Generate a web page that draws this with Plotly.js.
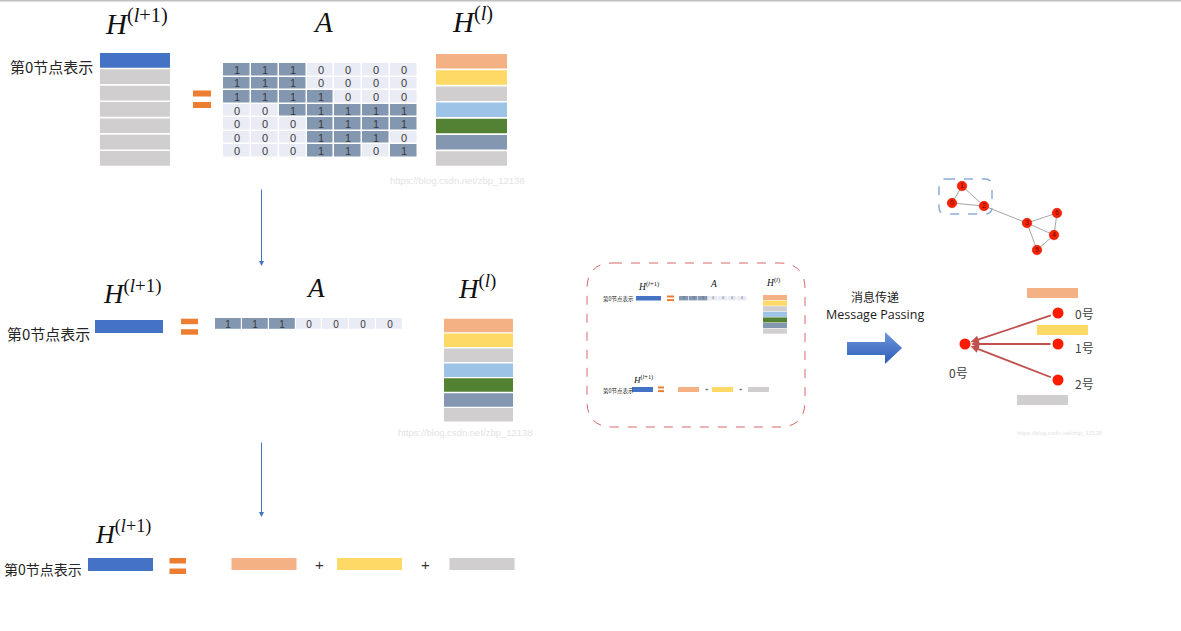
<!DOCTYPE html>
<html><head><meta charset="utf-8">
<script src="https://cdn.plot.ly/plotly-3.0.1.min.js"></script>
<style>html,body{margin:0;padding:0;background:#fff;overflow:hidden}#chart{width:1181px;height:631px}</style>
</head><body><div id="chart"></div>
<script>
// ---------------- data ----------------
const nodeIds = [0, 1, 2, 3, 4, 5, 6];
const edges = [[0,1],[0,2],[1,2],[2,3],[3,4],[3,5],[3,6],[4,5],[4,6]];
const adjacency = [
  [1,1,1,0,0,0,0],
  [1,1,1,0,0,0,0],
  [1,1,1,1,0,0,0],
  [0,0,1,1,1,1,1],
  [0,0,0,1,1,1,1],
  [0,0,0,1,1,1,0],
  [0,0,0,1,1,0,1]
];
const featureColors = ['#F4B183','#FFD966','#D0CECE','#9DC3E6','#548235','#8497B0','#D0CECE'];
const outputColors  = ['#4472C4','#D0CECE','#D0CECE','#D0CECE','#D0CECE','#D0CECE','#D0CECE'];
const targetNode = 0;
const rowLabel = '第0节点表示';
const outLabel = '<i>H</i><sup>(<i>l</i>+1)</sup>';
const adjLabel = '<i>A</i>';
const inLabel  = '<i>H</i><sup>(<i>l</i>)</sup>';
const mpTitleZh = '消息传递';
const mpTitleEn = 'Message Passing';
const nodeSuffix = '号';
const watermark = 'https://blog.csdn.net/zbp_12138';

// derived
const targetRow = adjacency[targetNode];
const neighbors = nodeIds.filter(j => targetRow[j] === 1);
const neighborColors = neighbors.map(j => featureColors[j]);

// ---------------- layout helpers (positions only) ----------------
const shapes = [], annotations = [], traces = [];
const BLUE = '#4472C4', ORANGE = '#ED7D31';

function rect(x0, y0, x1, y1, color, extra) {
  shapes.push(Object.assign({type:'rect', xref:'x', yref:'y', x0, y0, x1, y1,
    fillcolor: color, line:{width:0}, layer:'above'}, extra || {}));
}
function text(x, y, t, size, opts) {
  annotations.push(Object.assign({x, y, xref:'x', yref:'y', text:t, showarrow:false,
    xanchor:'center', yanchor:'middle',
    font:{family:'Noto Sans CJK SC, Noto Sans, sans-serif', size, color:'#262626'}}, opts || {}));
}
function math(x, y, t, size) {
  text(x, y, t, size, {font:{family:'Liberation Serif, DejaVu Serif, serif', size, color:'#111'}});
}
function column(colors, x0, x1, top, step, h) {
  colors.forEach((c, i) => rect(x0, top + i*step, x1, top + i*step + h, c));
}
function equals(x0, x1, yTop, barH, gap) {
  rect(x0, yTop, x1, yTop + barH, ORANGE);
  rect(x0, yTop + barH + gap, x1, yTop + 2*barH + gap, ORANGE);
}
function matrix(rows, x0, y0, cw, ch, gap, fsize) {
  const xs = [], ys = [];
  for (let j = 0; j <= rows[0].length; j++) xs.push(x0 + cw*j);
  for (let i = 0; i <= rows.length; i++) ys.push(y0 + ch*i);
  traces.push({type:'heatmap', x: xs, y: ys, z: rows, zmin:0, zmax:1,
    colorscale:[[0,'#E9EBF5'],[1,'#8497B0']], showscale:false, xgap:gap, ygap:gap,
    hoverinfo:'skip', texttemplate: '%{z}',
    textfont:{size: fsize, color:'#3a3a3a', family:'Liberation Sans, Arial'}});
}
function roundBox(x0, y0, x1, y1, r, color, w) {
  const p = `M${x0+r},${y0} L${x1-r},${y0} Q${x1},${y0} ${x1},${y0+r} L${x1},${y1-r} Q${x1},${y1} ${x1-r},${y1} ` +
            `L${x0+r},${y1} Q${x0},${y1} ${x0},${y1-r} L${x0},${y0+r} Q${x0},${y0} ${x0+r},${y0} Z`;
  shapes.push({type:'path', xref:'x', yref:'y', path:p, line:{color, width:w, dash:'dash'}, fillcolor:'rgba(0,0,0,0)'});
}
function arrow(x, y, ax, ay, color, width, head, size, stand) {
  annotations.push({x, y, ax, ay, xref:'x', yref:'y', axref:'x', ayref:'y', text:'', showarrow:true,
    arrowcolor:color, arrowwidth:width, arrowhead:head, arrowsize:size,
    standoff: stand || 0, startstandoff: stand || 0});
}
const wmFont = s => ({font:{family:'Liberation Sans, Arial', size:s, color:'#e3e3e3'}});

// top border line
shapes.push({type:'line', xref:'paper', yref:'y', x0:0, x1:1, y0:0.8, y1:0.8, line:{color:'#c0c0c0', width:1.6}});

// ---------------- section 1 : full matrix product ----------------
math(136, 22, outLabel, 29);
math(323, 22, adjLabel, 29);
math(472, 20, inLabel, 29);
text(51, 66, rowLabel, 15);
column(outputColors, 100, 170, 53, 16.35, 14.7);
equals(193, 211, 90.5, 6, 5.5);
matrix(adjacency, 223, 63, 27.86, 13.57, 1.5, 11);
column(featureColors, 436, 507, 54, 16.2, 14.5);
text(457, 180, watermark, 9.5, wmFont(9.5));

arrow(261.5, 266, 261.5, 188, BLUE, 1, 2, 1);

// ---------------- section 2 : row of A ----------------
math(132, 292, outLabel, 27);
math(315, 288, adjLabel, 27);
math(477, 287, inLabel, 27);
text(48, 333, rowLabel, 15);
rect(95, 320, 163, 333, BLUE);
equals(181, 198, 318.7, 5.5, 5);
matrix([targetRow], 215, 318, 26.86, 12, 1.2, 10);
column(featureColors, 444, 513, 318.7, 14.9, 13.5);
text(465, 432, watermark, 9.5, wmFont(9.5));

arrow(261.5, 517, 261.5, 441, BLUE, 1, 2, 1);

// ---------------- section 3 : weighted sum ----------------
math(123, 532, outLabel, 26);
text(43, 569, rowLabel, 14);
rect(88, 558, 153, 571, BLUE);
equals(169.5, 186, 558, 5.5, 5);
const sumX = [231.5, 337, 449.5];
neighborColors.forEach((c, k) => {
  rect(sumX[k], 558, sumX[k] + 65, 570, c);
  if (k < neighborColors.length - 1) text(sumX[k] + 88, 564, '+', 15, {font:{family:'Liberation Sans', size:15, color:'#333'}});
});

// ---------------- section 4 : mini summary in red dashed box ----------------
roundBox(587, 263, 805, 427, 26, '#D9666A', 1);
math(648, 286, outLabel, 9.5);
math(713, 284, adjLabel, 9.5);
math(773, 282, inLabel, 9.5);
text(618, 299, rowLabel, 5.5);
rect(636, 296, 661, 300.5, BLUE);
equals(667, 674, 295.5, 2, 1.6);
matrix([targetRow], 679, 296, 9.7, 4.6, 0.6, 3);
column(featureColors, 763, 787, 295, 5.6, 5.1);
math(643, 379, outLabel, 9);
text(618, 391, rowLabel, 5.5);
rect(632, 387, 653, 392, BLUE);
equals(658, 664, 386.5, 2, 1.6);
const miniX = [678, 712, 748];
neighborColors.forEach((c, k) => {
  rect(miniX[k], 387, miniX[k] + 21, 392, c);
  if (k < neighborColors.length - 1) text(miniX[k] + 29, 389, '+', 6, {font:{family:'Liberation Sans', size:6, color:'#444'}});
});

// ---------------- section 5 : graph + message passing ----------------
const graphPos = [[952,203],[962,186],[984,206],[1027,223],[1054,235],[1037,250],[1057,213]];
roundBox(939, 179, 992, 214, 7, '#8FAADC', 1.5);
edges.forEach(([a, b]) => {
  traces.push({type:'scatter', mode:'lines', x:[graphPos[a][0], graphPos[b][0]], y:[graphPos[a][1], graphPos[b][1]],
    line:{color:'#a6a6a6', width:1}, hoverinfo:'skip'});
});
traces.push({type:'scatter', mode:'markers+text', x: nodeIds.map(i => graphPos[i][0]), y: nodeIds.map(i => graphPos[i][1]),
  text: nodeIds.map(String), textposition:'middle center', textfont:{size:7, color:'#5a1010', family:'Liberation Sans'},
  marker:{size:9.5, color:'#FF2200', line:{color:'#d01000', width:0.6}}, hoverinfo:'skip'});

text(875, 296.5, mpTitleZh, 12, {font:{family:'Noto Sans CJK SC, sans-serif', size:12, color:'#1a1a1a'}});
text(875, 314, mpTitleEn, 12.5, {font:{family:'Open Sans, Noto Sans, sans-serif', size:12.5, color:'#1a1a1a'}});

// big blue arrow
traces.push({type:'scatter', mode:'lines', fill:'toself',
  x:[847, 885, 885, 902, 885, 885, 847, 847], y:[342, 342, 332, 348, 364, 355, 355, 342],
  line:{width:0, color:'#3F6FC6'}, fillcolor:'#3F6FC6',
  fillgradient:{type:'vertical', colorscale:[[0,'#2E5BB5'],[1,'#6C98DE']]}, hoverinfo:'skip'});

const center = [965, 344];
const nbX = 1058, nbY = [313, 344, 380];
const barSpans = [[1027, 288], [1037, 325], [1017, 395]];
neighbors.forEach((n, k) => {
  rect(barSpans[k][0], barSpans[k][1], barSpans[k][0] + 51, barSpans[k][1] + 10, featureColors[n]);
  text(1084, nbY[k] + (k ? 3 : 0), n + nodeSuffix, 12, {font:{family:'Noto Sans CJK SC, sans-serif', size:12, color:'#404040'}});
  arrow(center[0], center[1], nbX, nbY[k], '#C0504D', 1.8, 2, 0.9, 6);
});
traces.push({type:'scatter', mode:'markers', x:[center[0]].concat(neighbors.map(() => nbX)), y:[center[1]].concat(nbY),
  marker:{size:11, color:'#FF1A00'}, hoverinfo:'skip'});
text(958, 372, targetNode + nodeSuffix, 12, {font:{family:'Noto Sans CJK SC, sans-serif', size:12, color:'#404040'}});
text(1060, 433, watermark, 6, wmFont(6));

const layout = {
  width:1181, height:631, margin:{l:0, r:0, t:0, b:0},
  paper_bgcolor:'#ffffff', plot_bgcolor:'#ffffff', showlegend:false,
  xaxis:{range:[0,1181], visible:false, fixedrange:true},
  yaxis:{range:[631,0], visible:false, fixedrange:true},
  shapes, annotations
};
Plotly.newPlot('chart', traces, layout, {displayModeBar:false, staticPlot:true});
</script></body></html>
